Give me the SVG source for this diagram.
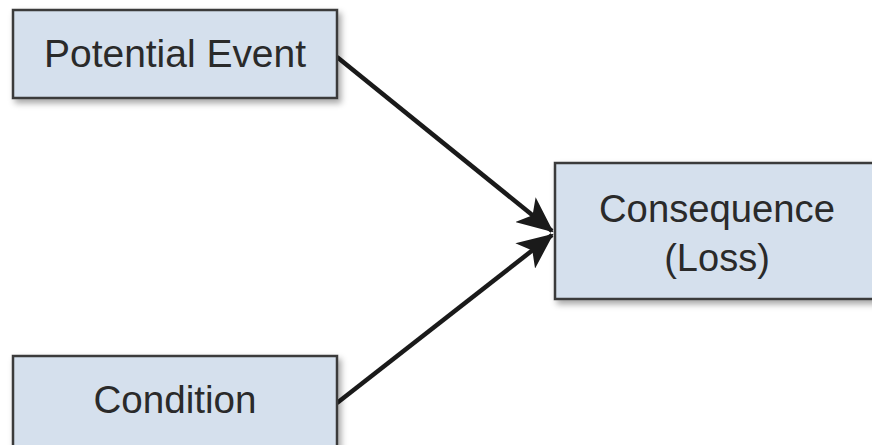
<svg xmlns="http://www.w3.org/2000/svg" width="872" height="445" viewBox="0 0 872 445">
<style>
.box{fill:#d5e0ed;stroke:#3a3a3a;stroke-width:2.5;filter:url(#sh)}
.lbl{font-family:"Liberation Sans",Arial,sans-serif;font-size:38px;fill:#2a2a2a;text-anchor:middle}
.conn{stroke:#1a1a1a;stroke-width:4.5;fill:none;marker-end:url(#ah)}
</style>
<defs>
<filter id="sh" x="-10%" y="-10%" width="130%" height="140%">
<feDropShadow dx="3" dy="4" stdDeviation="3" flood-color="#000" flood-opacity="0.35"/>
</filter>
<marker id="ah" markerUnits="userSpaceOnUse" markerWidth="36" markerHeight="32" viewBox="0 0 36 32" refX="34" refY="16" orient="auto">
<path d="M0,0 L36,16 L0,32 L9,16 Z" fill="#1a1a1a"/>
</marker>
</defs>
<rect width="872" height="445" fill="#ffffff"/>
<g id="connectors">
<line class="conn" x1="337" y1="57" x2="552" y2="231"/>
<line class="conn" x1="337" y1="403" x2="552" y2="235"/>
</g>
<g id="potential-event">
<rect class="box" x="13" y="10" width="324" height="88"/>
<text class="lbl" x="175" y="67" textLength="262" lengthAdjust="spacingAndGlyphs">Potential Event</text>
</g>
<g id="condition">
<rect class="box" x="13" y="356" width="324" height="110"/>
<text class="lbl" x="175" y="413" textLength="163" lengthAdjust="spacingAndGlyphs">Condition</text>
</g>
<g id="consequence">
<rect class="box" x="555" y="163" width="330" height="136"/>
<text class="lbl" x="717" y="222" textLength="236" lengthAdjust="spacingAndGlyphs">Consequence</text>
<text class="lbl" x="717" y="271">(Loss)</text>
</g>
</svg>
